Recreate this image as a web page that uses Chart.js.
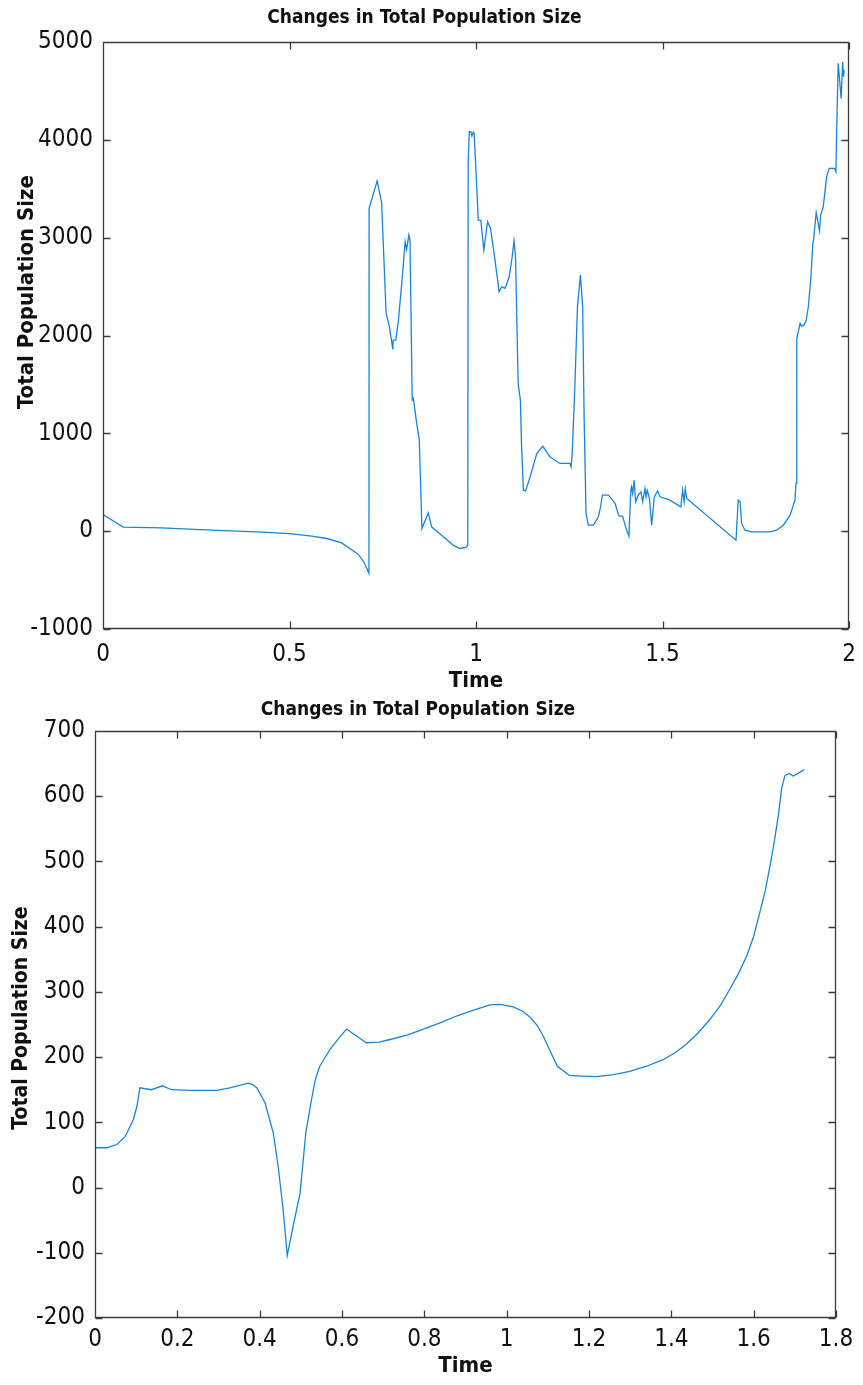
<!DOCTYPE html>
<html><head><meta charset="utf-8">
<script src="https://cdn.jsdelivr.net/npm/chart.js@4.4.1/dist/chart.umd.min.js"></script>
<style>html,body{margin:0;padding:0;background:#fff;}canvas{display:block;}</style>
</head><body>
<canvas id="c1" width="863" height="692"></canvas>
<canvas id="c2" width="863" height="693"></canvas>
<script>
// ---------- data ----------
const chartTitle = 'Changes in Total Population Size';
const xTitle = 'Time';
const yTitle = 'Total Population Size';

const timeTop = [0,0.054,0.157,0.291,0.426,0.5,0.56,0.6,0.64,0.684,0.70,0.713,0.7135,0.720,0.735,0.747,0.759,0.768,0.777,0.778,0.785,0.792,0.801,0.810,0.814,0.820,0.823,0.829,0.832,0.841,0.848,0.855,0.872,0.881,0.939,0.957,0.973,0.978,0.979,0.982,0.986,0.989,0.993,0.995,1.002,1.006,1.013,1.021,1.031,1.039,1.051,1.062,1.069,1.078,1.089,1.097,1.102,1.106,1.113,1.119,1.122,1.127,1.133,1.145,1.163,1.179,1.198,1.225,1.252,1.255,1.258,1.265,1.272,1.280,1.286,1.290,1.295,1.301,1.315,1.328,1.334,1.339,1.355,1.359,1.373,1.381,1.384,1.393,1.401,1.410,1.415,1.417,1.420,1.424,1.428,1.435,1.442,1.447,1.453,1.456,1.459,1.465,1.471,1.478,1.487,1.493,1.520,1.549,1.554,1.558,1.561,1.565,1.697,1.703,1.708,1.712,1.721,1.739,1.788,1.806,1.824,1.842,1.855,1.858,1.860,1.869,1.873,1.879,1.885,1.891,1.898,1.903,1.905,1.912,1.921,1.924,1.931,1.940,1.947,1.961,1.965,1.967,1.971,1.979,1.983,1.985,1.987];
const popTop = [170,41,34,10,-10,-25,-50,-75,-120,-235,-320,-430,3300,3385,3580,3357,2226,2089,1858,1953,1953,2157,2533,2958,2880,3027,2975,1340,1357,1101,930,27,187,44,-143,-177,-167,-143,3763,4083,4083,4040,4080,4070,3520,3180,3180,2873,3163,3095,2771,2447,2498,2481,2600,2805,2969,2805,1510,1339,897,419,412,555,794,869,760,692,692,657,794,1476,2294,2617,2294,1135,180,61,61,146,248,368,368,351,283,181,153,153,44,-51,419,453,385,521,300,368,402,300,436,351,419,334,61,351,412,351,317,248,419,300,436,334,-92,317,300,79,10,-7,-7,10,61,164,317,488,1970,2124,2096,2106,2150,2294,2600,2941,2975,3255,3071,3231,3316,3623,3709,3709,3674,4100,4782,4424,4799,4645,4714];
const topXTicks = [0,0.5,1,1.5,2];
const topYTicks = [-1000,0,1000,2000,3000,4000,5000];

const timeBottom = [0,0.028,0.053,0.073,0.093,0.102,0.109,0.137,0.164,0.186,0.231,0.295,0.328,0.372,0.383,0.393,0.413,0.433,0.445,0.457,0.467,0.481,0.498,0.506,0.512,0.526,0.535,0.546,0.571,0.591,0.611,0.659,0.69,0.717,0.76,0.798,0.84,0.878,0.92,0.959,0.984,1.016,1.04,1.057,1.075,1.089,1.105,1.123,1.152,1.18,1.218,1.26,1.299,1.34,1.38,1.41,1.437,1.465,1.494,1.52,1.542,1.563,1.583,1.60,1.615,1.628,1.640,1.650,1.660,1.668,1.676,1.686,1.696,1.708,1.723];
const popBottom = [61,61,66,78,104,125,153,150,156,150,149,149,153,160,158,153,130,84,32,-34,-104,-60,-9,43,84,135,165,186,212,228,243,222,223,227,234,243,253,263,272,280,281,277,270,261,248,232,210,186,172,171,170,173,178,186,196,207,220,237,258,280,304,328,355,385,422,455,494,530,571,612,632,635,631,635,641];
const bottomXTicks = [0,0.2,0.4,0.6,0.8,1,1.2,1.4,1.6,1.8];
const bottomYTicks = [-200,-100,0,100,200,300,400,500,600,700];

// ---------- drawing ----------
const fam = "'Liberation Sans Narrow','Arial Narrow','DejaVu Sans Condensed','Roboto Condensed',sans-serif";
const lineColor = '#1a84d4';
const frameColor = '#3d3a3a';

const framePlugin = {
  id: 'frame',
  afterDraw(chart) {
    const {ctx, chartArea: a, scales: {x, y}} = chart;
    const L = Math.round(a.left) + 0.5, R = Math.round(a.right) - 0.5;
    const T = Math.round(a.top) + 0.5, B = Math.round(a.bottom) - 0.5;
    const tl = 7;
    ctx.save();
    ctx.strokeStyle = frameColor;
    ctx.lineWidth = 1.3;
    ctx.beginPath();
    ctx.rect(L, T, R - L, B - T);
    x.ticks.forEach(t => {
      const px = Math.round(x.getPixelForValue(t.value)) + 0.5;
      ctx.moveTo(px, B); ctx.lineTo(px, B - tl);
      ctx.moveTo(px, T); ctx.lineTo(px, T + tl);
    });
    y.ticks.forEach(t => {
      const py = Math.round(y.getPixelForValue(t.value)) + 0.5;
      ctx.moveTo(L, py); ctx.lineTo(L + tl, py);
      ctx.moveTo(R, py); ctx.lineTo(R - tl, py);
    });
    ctx.stroke();
    // y-axis title
    const o = chart.options.plugins.frame;
    ctx.fillStyle = '#111';
    ctx.font = 'bold ' + o.yTitleSize + 'px ' + fam;
    ctx.textAlign = 'center';
    ctx.textBaseline = 'middle';
    ctx.translate(o.yTitleX, o.yTitleY);
    ctx.rotate(-Math.PI / 2);
    ctx.fillText(yTitle, 0, 0);
    ctx.restore();
  }
};

function fmt(v) { return String(Math.round(v * 1000) / 1000); }

function makeChart(id, xs, ys, cfg) {
  const pts = xs.map((t, i) => ({x: t, y: ys[i]}));
  return new Chart(document.getElementById(id), {
    type: 'line',
    data: {datasets: [{data: pts, borderColor: lineColor, borderWidth: 1.3, pointRadius: 0, tension: 0, fill: false}]},
    options: {
      responsive: false, animation: false, devicePixelRatio: 1,
      layout: {padding: {left: 0, right: cfg.padRight, top: 0, bottom: 0}},
      plugins: {
        legend: {display: false}, tooltip: {enabled: false},
        frame: {yTitleX: cfg.yTitleX, yTitleY: cfg.yTitleY, yTitleSize: cfg.yTitleSize},
        title: {display: true, text: chartTitle, color: '#111',
          font: {family: fam, size: 19, weight: 'bold', lineHeight: 1.2},
          padding: {top: cfg.titleTop, bottom: cfg.titleBottom}}
      },
      scales: {
        x: {type: 'linear', min: cfg.xTicks[0], max: cfg.xTicks[cfg.xTicks.length - 1],
          afterBuildTicks: s => { s.ticks = cfg.xTicks.map(v => ({value: v})); },
          afterFit: s => { s.height = cfg.xHeight; },
          grid: {display: false, drawTicks: false}, border: {display: false},
          ticks: {color: '#111', padding: 0, maxRotation: 0, autoSkip: false,
            font: {family: fam, size: 24, lineHeight: cfg.xTickLH}, callback: v => fmt(v)},
          title: {display: true, text: xTitle, color: '#111',
            font: {family: fam, size: 22, weight: 'bold', lineHeight: 1},
            padding: {top: 0, bottom: cfg.xTitlePad}}
        },
        y: {type: 'linear', min: cfg.yTicks[0], max: cfg.yTicks[cfg.yTicks.length - 1],
          afterBuildTicks: s => { s.ticks = cfg.yTicks.map(v => ({value: v})); },
          afterFit: s => { s.width = cfg.yWidth; },
          grid: {display: false, drawTicks: false}, border: {display: false},
          ticks: {color: '#111', padding: 10, autoSkip: false,
            font: {family: fam, size: 24, lineHeight: 1}, callback: v => fmt(v)},
          title: {display: false}
        }
      }
    },
    plugins: [framePlugin]
  });
}

makeChart('c1', timeTop, popTop, {
  xTicks: topXTicks, yTicks: topYTicks, padRight: 14,
  titleTop: 6.6, titleBottom: 12.6, yWidth: 103, xHeight: 63,
  xTickLH: 2.17, xTitlePad: 0,
  yTitleX: 27, yTitleY: 292, yTitleSize: 22
});
makeChart('c2', timeBottom, popBottom, {
  xTicks: bottomXTicks, yTicks: bottomYTicks, padRight: 27,
  titleTop: 6.6, titleBottom: 9.6, yWidth: 95, xHeight: 67,
  xTickLH: 1.85, xTitlePad: 8,
  yTitleX: 22, yTitleY: 326, yTitleSize: 21
});
</script>
</body></html>
